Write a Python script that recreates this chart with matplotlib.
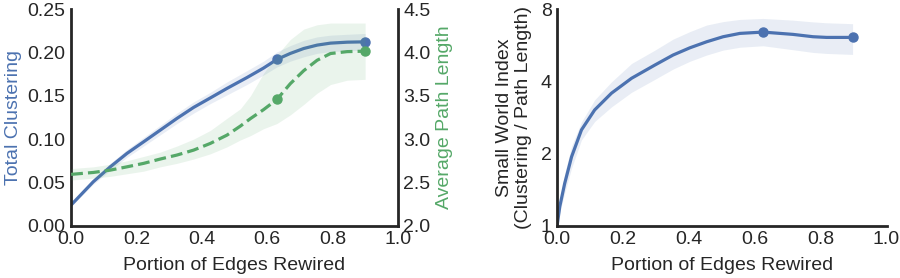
import matplotlib
matplotlib.use("Agg")
import matplotlib.pyplot as plt
import matplotlib.ticker as ticker

plt.rcParams['font.family'] = ['Liberation Sans', 'DejaVu Sans']

blue = "#4C72B0"
green = "#55A868"
dark = "#262626"

# clustering (left axis)
x_c = [0.0, 0.068, 0.12, 0.171, 0.222, 0.273, 0.324, 0.375, 0.426, 0.477,
       0.538, 0.589, 0.63, 0.671, 0.712, 0.753, 0.794, 0.845, 0.9]
clust = [0.0239, 0.0508, 0.068, 0.0835, 0.0969, 0.1104, 0.1239, 0.1366, 0.1475, 0.1585,
         0.171, 0.182, 0.192, 0.1989, 0.2046, 0.2085, 0.2108, 0.2119, 0.2123]
clust_lo = [0.0225, 0.048, 0.064, 0.079, 0.092, 0.105, 0.118, 0.130, 0.141, 0.151,
            0.163, 0.174, 0.1833, 0.190, 0.195, 0.199, 0.201, 0.202, 0.2026]
clust_hi = [0.0253, 0.054, 0.072, 0.088, 0.102, 0.116, 0.130, 0.143, 0.154, 0.166,
            0.179, 0.190, 0.2007, 0.208, 0.214, 0.218, 0.220, 0.221, 0.222]

# path length (right axis)
x_p = [0.0, 0.068, 0.12, 0.171, 0.222, 0.273, 0.324, 0.375, 0.426, 0.477,
       0.518, 0.549, 0.589, 0.63, 0.671, 0.712, 0.753, 0.794, 0.845, 0.9]
path = [2.593, 2.615, 2.642, 2.68, 2.72, 2.77, 2.816, 2.873, 2.95, 3.046,
        3.15, 3.237, 3.34, 3.458, 3.64, 3.79, 3.91, 3.988, 4.01, 4.015]
path_lo = [2.527, 2.55, 2.57, 2.6, 2.63, 2.68, 2.72, 2.77, 2.83, 2.91,
           2.99, 3.04, 3.12, 3.18, 3.28, 3.40, 3.53, 3.63, 3.68, 3.69]
path_hi = [2.66, 2.68, 2.71, 2.75, 2.80, 2.85, 2.92, 3.0, 3.1, 3.24,
           3.35, 3.5, 3.76, 3.97, 4.15, 4.27, 4.32, 4.34, 4.34, 4.34]

# small world index
x_s = [0.0, 0.008, 0.023, 0.044, 0.074, 0.114, 0.165, 0.226, 0.297, 0.352,
       0.403, 0.454, 0.504, 0.555, 0.625, 0.716, 0.777, 0.818, 0.897]
swi = [1.0, 1.2, 1.5, 1.94, 2.51, 3.04, 3.57, 4.12, 4.68, 5.15,
       5.52, 5.85, 6.14, 6.34, 6.42, 6.28, 6.14, 6.10, 6.10]
swi_lo = [1.0, 1.13, 1.37, 1.74, 2.28, 2.72, 3.13, 3.6, 4.08, 4.5,
          4.85, 5.15, 5.4, 5.55, 5.63, 5.42, 5.28, 5.23, 5.18]
swi_hi = [1.0, 1.27, 1.65, 2.15, 2.71, 3.35, 3.98, 4.75, 5.4, 6.0,
          6.45, 6.87, 7.1, 7.25, 7.32, 7.2, 7.08, 7.02, 6.96]

x_ticks = [0.0, 0.2, 0.4, 0.6, 0.8, 1.0]

fig = plt.figure(figsize=(9, 2.78), dpi=100)
ax1 = fig.add_axes([0.079, 0.188, 0.363, 0.779])
ax3 = fig.add_axes([0.619, 0.188, 0.366, 0.779])

fs_tick = 14
fs_lab = 14

# left plot
ax1.fill_between(x_c, clust_lo, clust_hi, color=blue, alpha=0.12, lw=0)
ax1.plot(x_c, clust, color=blue, lw=2.3, marker="o", ms=6.5, markevery=[12, 18])
ax1.set_xlim(0, 1)
ax1.set_ylim(0, 0.25)
ax1.set_xticks(x_ticks)
ax1.set_yticks([0.0, 0.05, 0.10, 0.15, 0.20, 0.25])
ax1.yaxis.set_major_formatter(ticker.FormatStrFormatter("%.2f"))
ax1.set_ylabel("Total Clustering", color=blue, fontsize=fs_lab, labelpad=4)
ax1.set_xlabel("Portion of Edges Rewired", fontsize=fs_lab, color=dark, labelpad=6)

ax2 = ax1.twinx()
ax2.fill_between(x_p, path_lo, path_hi, color=green, alpha=0.12, lw=0)
ax2.plot(x_p, path, color=green, lw=2.3, ls="--", marker="o", ms=6.5, markevery=[13, 19])
ax2.set_ylim(2.0, 4.5)
ax2.set_yticks([2.0, 2.5, 3.0, 3.5, 4.0, 4.5])
ax2.yaxis.set_major_formatter(ticker.FormatStrFormatter("%.1f"))
ax2.set_ylabel("Average Path Length", color=green, fontsize=fs_lab, labelpad=4)

# right plot
ax3.fill_between(x_s, swi_lo, swi_hi, color=blue, alpha=0.12, lw=0)
ax3.plot(x_s, swi, color=blue, lw=2.3, marker="o", ms=6.5, markevery=[14, 18])
ax3.set_yscale("log", base=2)
ax3.set_xlim(0, 1)
ax3.set_ylim(1, 8)
ax3.set_xticks(x_ticks)
ax3.set_yticks([1, 2, 4, 8])
ax3.yaxis.set_major_formatter(ticker.FormatStrFormatter("%d"))
ax3.yaxis.set_minor_locator(ticker.NullLocator())
ax3.set_ylabel("Small World Index\n(Clustering / Path Length)", fontsize=fs_lab, color=dark, labelpad=6)
ax3.set_xlabel("Portion of Edges Rewired", fontsize=fs_lab, color=dark, labelpad=6)

for ax in [ax1, ax2, ax3]:
    ax.tick_params(length=0, labelsize=fs_tick, colors=dark, pad=4)
    ax.xaxis.set_major_formatter(ticker.FormatStrFormatter("%.1f"))
    for s in ax.spines.values():
        s.set_color(dark)
        s.set_linewidth(2)
    ax.spines["top"].set_visible(False)

ax1.spines["right"].set_visible(False)
ax3.spines["right"].set_visible(False)
ax2.spines["left"].set_visible(False)
ax2.spines["bottom"].set_visible(False)

fig.savefig("out.png", dpi=100)
